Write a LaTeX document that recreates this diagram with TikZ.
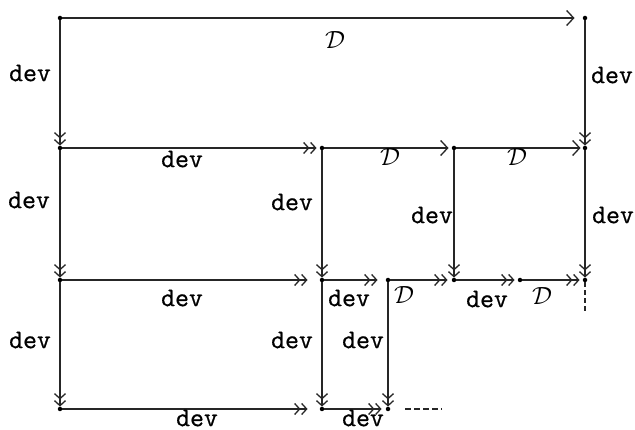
\documentclass[tikz,border=0pt]{standalone}
\usepackage{fontspec}
\newfontfamily\devfont[FakeBold=0.6]{Latin Modern Mono}
\usetikzlibrary{arrows.meta}
\begin{document}
\begin{tikzpicture}[x=1pt,y=-1pt,
  pt/.style={circle,fill=black,inner sep=0pt,minimum size=4.5pt},
  ln/.style={line width=1.1pt,black!85},
  thk/.style={line width=1.8pt},
  dbl/.style={-{Straight Barb[length=5pt,width=11pt,line width=1.3pt,sep=0.5pt]Straight Barb[length=5pt,width=11pt,line width=1.3pt]}},
  sgl/.style={-{Straight Barb[length=7pt,width=15pt,line width=1.3pt]}},
  lbl/.style={font=\fontsize{27}{30}\selectfont\devfont,inner sep=0pt},
  dl/.style={font=\fontsize{28}{30}\selectfont,inner sep=0pt}]
\useasboundingbox (0,0) rectangle (635,430);
% points
\node[pt] (a1) at (60,18) {};
\node[pt] (a2) at (585,18) {};
\node[pt] (b1) at (60,148) {};
\node[pt] (b2) at (322,148) {};
\node[pt] (b3) at (454,148) {};
\node[pt] (b4) at (585,148) {};
\node[pt] (c1) at (60,280) {};
\node[pt] (c2) at (322,280) {};
\node[pt] (c3) at (388,280) {};
\node[pt] (c4) at (454,280) {};
\node[pt] (c5) at (520,280) {};
\node[pt] (c6) at (585,280) {};
\node[pt] (d1) at (60,409) {};
\node[pt] (d2) at (322,409) {};
\node[pt] (d3) at (388,409) {};
\coordinate (e1) at (585,314);
\coordinate (f1) at (405,409);
\coordinate (f2) at (442,409);
% row 1
\draw[ln,sgl,shorten >=8pt] (a1) -- (a2);
\draw[ln,dbl] (a1) -- (b1);
\draw[ln,dbl] (a2) -- (b4);
% row 2
\draw[ln,dbl,shorten >=3pt] (b1) -- (b2);
\draw[ln,sgl,shorten >=3pt] (b2) -- (b3);
\draw[ln,sgl,shorten >=2pt] (b3) -- (b4);
\draw[ln,thk,dbl] (b1) -- (c1);
\draw[ln,thk,dbl] (b2) -- (c2);
\draw[ln,thk,dbl] (b3) -- (c4);
\draw[ln,dbl] (b4) -- (c6);
% row 3
\draw[ln,dbl,shorten >=12pt] (c1) -- (c2);
\draw[ln,dbl,shorten >=8pt] (c2) -- (c3);
\draw[ln,dbl,shorten >=4pt] (c3) -- (c4);
\draw[ln,dbl,shorten >=3pt] (c4) -- (c5);
\draw[ln,dbl,shorten >=3pt] (c5) -- (c6);
\draw[ln,dash pattern=on 5pt off 3pt] (c6) -- (e1);
\draw[ln,dbl] (c1) -- (d1);
\draw[ln,dbl] (c2) -- (d2);
\draw[ln,dbl] (c3) -- (d3);
% row 4
\draw[ln,dbl,shorten >=12pt] (d1) -- (d2);
\draw[ln,dbl,shorten >=4pt] (d2) -- (d3);
\draw[ln,line width=1.4pt,dash pattern=on 6pt off 3pt] (f1) -- (f2);
% labels
\node[dl] (l1) at (335,40) {$\mathcal{D}$};
\node[lbl] (l2) at (30,73) {dev};
\node[lbl] (l3) at (612,75) {dev};
\node[lbl] (l4) at (182,159) {dev};
\node[dl] (l5) at (390,157) {$\mathcal{D}$};
\node[dl] (l6) at (517,157) {$\mathcal{D}$};
\node[lbl] (l7) at (29,200) {dev};
\node[lbl] (l8) at (292,202) {dev};
\node[lbl] (l9) at (432,215) {dev};
\node[lbl] (l10) at (613,215) {dev};
\node[lbl] (l11) at (182,298) {dev};
\node[lbl] (l12) at (349,298) {dev};
\node[dl] (l13) at (404,295) {$\mathcal{D}$};
\node[lbl] (l14) at (487,299) {dev};
\node[dl] (l15) at (542,296) {$\mathcal{D}$};
\node[lbl] (l16) at (30,340) {dev};
\node[lbl] (l17) at (292,340) {dev};
\node[lbl] (l18) at (363,340) {dev};
\node[lbl] (l19) at (197,418) {dev};
\node[lbl] (l20) at (363,418) {dev};
\end{tikzpicture}
\end{document}
